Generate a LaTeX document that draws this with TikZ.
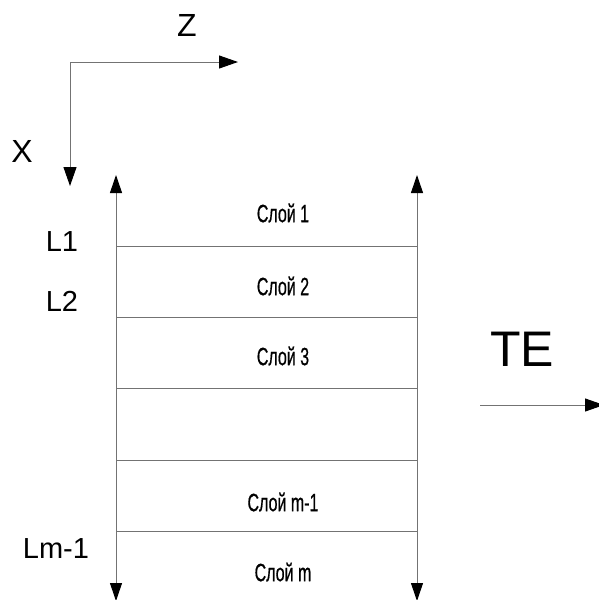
\documentclass[tikz,border=0pt]{standalone}
\usepackage{fontspec}
\setmainfont{Liberation Sans}
\newfontfamily\narrowfont[FakeBold=0.8]{Liberation Sans}
\usetikzlibrary{arrows.meta}
\tikzset{
  ln/.style={draw=black!55, line width=1pt},
  axarrow/.style={ln, -{Triangle[length=19pt,width=13pt,color=black]}},
  bothway/.style={ln, {Triangle[length=18pt,width=12pt,color=black]}-{Triangle[length=18pt,width=12pt,color=black]}},
  layer/.style={inner sep=0pt, font=\narrowfont\fontsize{25}{25}\selectfont},
  lab/.style={inner sep=0pt, font=\fontsize{29}{29}\selectfont},
  axlab/.style={inner sep=0pt, font=\fontsize{32}{32}\selectfont},
}
\newcommand{\narrow}[1]{\scalebox{0.64}[1]{#1}}
\begin{document}
\begin{tikzpicture}[x=1pt,y=-1pt]
\useasboundingbox (0,0) rectangle (598,600);
% axes
\coordinate (O) at (70,62);
\coordinate (Zend) at (238,62);
\coordinate (Xend) at (70,186);
\draw[axarrow] (O) -- (Zend);
\draw[axarrow] (O) -- (Xend);
\node[axlab] (Zl) at (187,25) {Z};
\node[axlab] (Xl) at (22,151) {X};
% vertical boundaries
\coordinate (LT) at (116,175);
\coordinate (LB) at (116,601);
\coordinate (RT) at (417,175);
\coordinate (RB) at (417,601);
\draw[bothway] (LB) -- (LT);
\draw[bothway] (RB) -- (RT);
% layer boundaries
\foreach \i/\y in {1/246,2/317,3/388,4/460,5/531}{
  \coordinate (a\i) at (116,\y);
  \coordinate (b\i) at (417,\y);
  \draw[ln] (a\i) -- (b\i);
}
% layer labels
\node[layer] (s1) at (283,213) {\narrow{Слой 1}};
\node[layer] (s2) at (283,286) {\narrow{Слой 2}};
\node[layer] (s3) at (283,356) {\narrow{Слой 3}};
\node[layer] (sm1) at (283,502) {\narrow{Слой m-1}};
\node[layer] (sm) at (283,572) {\narrow{Слой m}};
% L labels
\node[lab] (L1) at (62,242) {L1};
\node[lab] (L2) at (62,301) {L2};
\node[lab] (Lm) at (56,549) {Lm-1};
% TE
\node[inner sep=0pt, font=\fontsize{50}{50}\selectfont] (TE) at (522,349) {TE};
\coordinate (Ts) at (480,405);
\coordinate (Te) at (604,405);
\draw[axarrow] (Ts) -- (Te);
\end{tikzpicture}
\end{document}
